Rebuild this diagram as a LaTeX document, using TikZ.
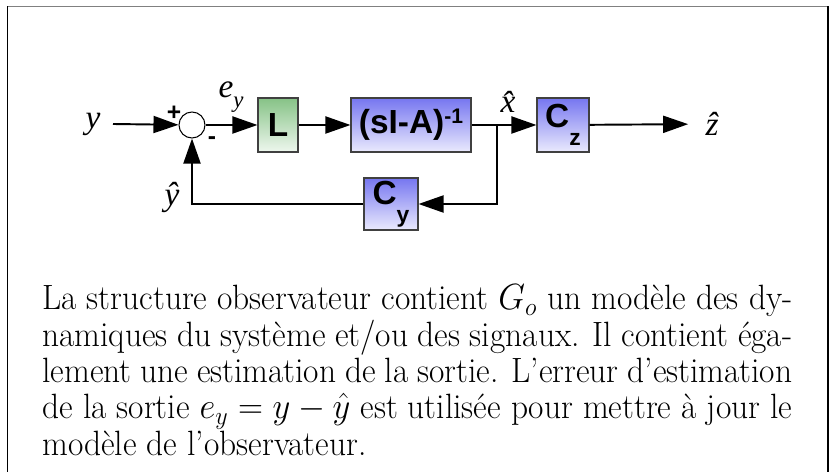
\documentclass[tikz,border=0pt]{standalone}
\usepackage{fontspec}
\usepackage{amsmath}
\usepackage{graphicx}
\usetikzlibrary{arrows.meta}
\newfontfamily\arialfont{Liberation Sans}
\newfontfamily\timesfont{Liberation Serif}
\definecolor{bleuhaut}{RGB}{118,118,240}
\definecolor{bleubas}{RGB}{234,234,253}
\definecolor{verthaut}{RGB}{134,194,134}
\definecolor{vertbas}{RGB}{238,247,238}
\newcommand{\indice}[2][-0.55em]{\raisebox{#1}{\fontsize{13}{13}\selectfont #2}}
\newcommand{\exposant}[1]{\raisebox{5.5pt}{\fontsize{12}{12}\selectfont #1}}

\tikzset{
  bloc/.style={shape=rectangle,draw=black!75,line width=0.6pt,inner sep=0pt,minimum height=1.08cm,font=\arialfont\bfseries\fontsize{19}{19}\selectfont},
  blocbleu/.style={bloc,top color=bleuhaut,bottom color=bleubas},
  blocvert/.style={bloc,top color=verthaut,bottom color=vertbas},
  signal/.style={inner sep=0pt,font=\timesfont\itshape\fontsize{19}{19}\selectfont},
  signe/.style={inner sep=0pt,font=\arialfont\bfseries\fontsize{14}{14}\selectfont},
  fleche/.style={-{Triangle[length=0.5cm,width=0.34cm]},line width=1.1pt},
}

\begin{document}
\begin{tikzpicture}
        \useasboundingbox (0,0) rectangle (16.58,9.44);
        \draw[gray,line width=1.1pt] (0.14,9.31) -- (16.55,9.31);
        \draw[line width=0.8pt] (0.15,9.31) -- (0.15,0);
        \draw[line width=0.8pt] (16.56,9.31) -- (16.56,0);

        \node[shape=circle,draw=black,fill=white,line width=0.6pt,minimum size=0.52cm,inner sep=0pt] (sum) at (3.84, 6.94) {};
        \node[blocvert,minimum width=0.8cm]  (L)   at (5.56, 6.94) {L};
        \node[blocbleu,minimum width=2.4cm]  (sIA) at (8.22, 6.94) {(sI-A)\exposant{-1}};
        \node[blocbleu,minimum width=1.04cm] (Cz)  at (11.26, 6.94) {C\indice{z}};
        \node[blocbleu,minimum width=1.08cm,minimum height=1.04cm] (Cy) at (7.82, 5.36) {C\indice{y}};
        \coordinate (jonction) at (9.94, 6.94);

        \node[signal] (y)    at (1.86, 6.96) {y};
        \node[signal] (zhat) at (14.24, 6.96) {\^{z}};
        \node[signal] (ey)   at (4.62, 7.50) {e\indice[-0.3em]{y}};
        \node[signal] (xhat) at (10.16, 7.40) {\^{x}};
        \node[signal] (yhat) at (3.44, 5.50) {\^{y}};
        \node[signe]  (plus)  at (3.48, 7.18) {+};
        \node[signe]  (moins) at (4.24, 6.62) {-};

	\draw[fleche] (y) ++(0.4,0) -- (sum);
	\draw[fleche] (sum) -- (L);
	\draw[fleche] (L) -- (sIA);
	\draw[line width=1.1pt] (sIA) -- (jonction);
	\draw[fleche] (jonction) -- (Cz);
	\draw[fleche,shorten >=0.34cm] (Cz) -- (zhat);
	\draw[fleche] (jonction) |- (Cy);
	\draw[fleche] (Cy) -| (sum);

        \node[anchor=north west,inner sep=0pt] (texte) at (0.84, 3.75)
        {\scalebox{0.95}[1]{\parbox[t]{15.79cm}{\fontsize{20}{20.7}\selectfont
        La structure observateur contient $G_o$ un modèle des dy-\linebreak namiques du système et/ou des signaux. Il contient éga-\linebreak lement une estimation de la sortie. L'erreur d'estimation\linebreak de la sortie $e_y = y - \hat{y}$ est utilisée pour mettre à jour le\linebreak modèle de l'observateur.}}};
\end{tikzpicture}
\end{document}
